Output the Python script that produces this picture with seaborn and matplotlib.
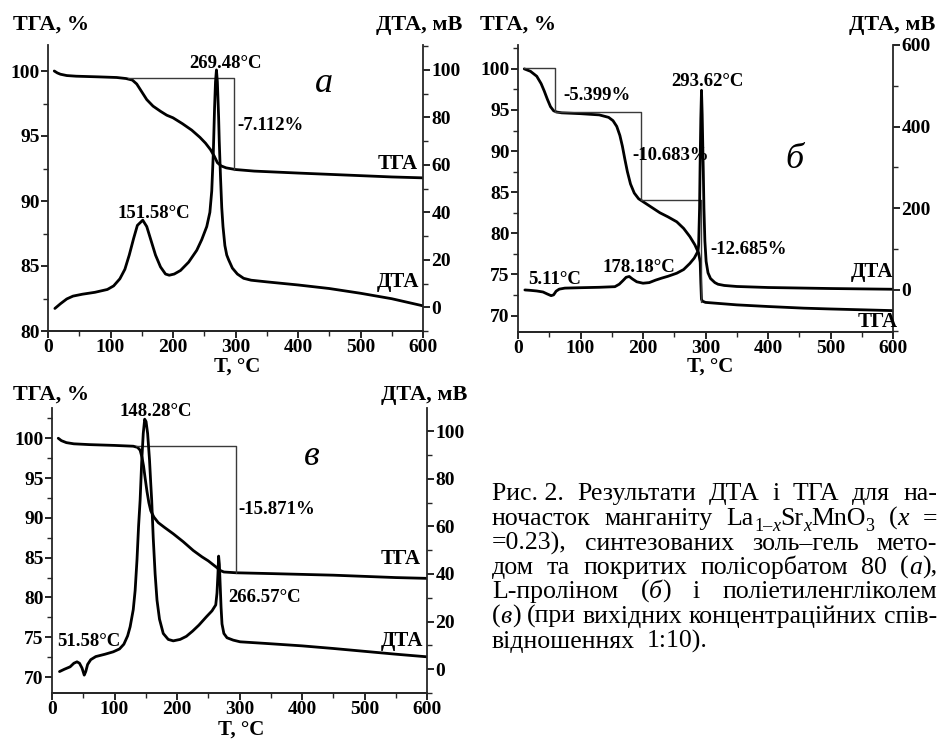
import matplotlib
matplotlib.use("Agg")
import matplotlib.pyplot as plt
import seaborn as sns
from matplotlib.ticker import MultipleLocator

# ---------------- data ----------------
# panel a
Ta_tga = [10, 15, 20, 30, 45, 80, 110, 125, 135, 142, 150, 158, 168, 180, 190, 200, 215, 230, 243,
          252, 260, 266, 271, 277, 285, 300, 330, 400, 450, 500, 550, 600]
a_tga = [100.0, 99.85, 99.75, 99.65, 99.6, 99.55, 99.5, 99.42, 99.3, 99.0, 98.4, 97.8, 97.3, 96.9,
         96.6, 96.4, 95.95, 95.45, 94.9, 94.45, 93.95, 93.45, 92.95, 92.7, 92.55, 92.42, 92.3,
         92.15, 92.05, 91.95, 91.85, 91.78]
Ta_dta = [11, 20, 30, 40, 55, 75, 95, 105, 115, 123, 130, 137, 143, 151.6, 158, 165, 172, 180, 188,
          194, 202, 212, 225, 238, 246, 254, 259, 262, 264.5, 266.5, 268, 269.5, 271, 273, 274, 276,
          278, 280, 283, 286, 289, 295, 303, 313, 325, 350, 400, 450, 500, 550, 600]
a_dta = [-0.5, 1.5, 3.5, 4.7, 5.5, 6.3, 7.5, 9, 12, 16, 22, 29, 34.5, 36.7, 34, 28, 22, 17, 14,
         13.5, 14, 15.5, 19, 24, 28.5, 34, 40, 49, 65, 84, 95, 100, 95, 80, 70, 55,
         42, 34, 26, 22, 20, 16.5, 14, 12.2, 11.4, 10.7, 9.4, 7.9, 5.9, 3.6, 0.6]
a_step_T = [128, 298, 298]
a_step_v = [99.5, 99.5, 92.4]

# panel б
Tb_tga = [10, 20, 30, 37, 42, 47, 52, 57, 62, 70, 100, 130, 145, 152, 158, 163, 167, 171, 175, 180,
          186, 193, 201, 215, 227, 240, 254, 265, 275, 283, 289, 291.5, 292.5, 293.5, 295, 300, 350,
          400, 457, 500, 550, 600]
b_tga = [100.0, 99.7, 99.1, 98.2, 97.3, 96.3, 95.4, 94.9, 94.75, 94.65, 94.55, 94.4, 94.1, 93.7,
         93.0, 91.9, 90.6, 89.0, 87.5, 86.0, 84.9, 84.2, 83.8, 83.1, 82.5, 82.0, 81.4, 80.6, 79.6,
         78.6, 77.6, 76.5, 74.0, 72.0, 71.75, 71.6, 71.3, 71.1, 70.9, 70.8, 70.7, 70.6]
Tb_dta = [11, 20, 30, 40, 47, 53, 57, 61, 66, 75, 100, 130, 155, 162, 168, 173, 178, 183, 190, 200,
          210, 220, 230, 240, 254, 265, 275, 282, 288, 289, 290.5, 291.3, 292.5, 293.6, 294.7, 295.7,
          296.5, 297.5, 299, 301, 304, 308, 315, 320, 330, 350, 400, 500, 600]
b_dta = [0, -1, -2.5, -5, -10, -14, -12, -3, 2, 4.5, 5.5, 6.5, 8, 14, 23, 31, 33, 27, 20, 16.5,
         18, 24, 29, 33.5, 41, 50, 65, 78, 95, 110, 200, 300, 420, 489, 430, 350,
         290, 200, 120, 70, 42, 28, 18, 14, 11, 8.5, 6, 3.5, 1.7]
b_step_T = [10, 59, 59, 196, 196, 293, 293]
b_step_v = [100.1, 100.1, 94.7, 94.7, 84.1, 84.1, 71.7]

# panel в
Tc_tga = [10, 15, 23, 35, 60, 100, 130, 137, 141, 144, 146.5, 149, 152, 155, 158, 163, 170, 180,
          194, 210, 226, 240, 250, 263, 269, 275, 295, 350, 450, 550, 600]
c_tga = [100.0, 99.7, 99.45, 99.3, 99.2, 99.1, 99.0, 98.85, 98.5, 97.6, 96.5, 95.0, 93.3, 91.9,
         90.9, 90.1, 89.4, 88.8, 88.0, 87.0, 85.9, 85.1, 84.6, 83.8, 83.4, 83.2, 83.1, 83.0, 82.8,
         82.5, 82.4]
Tc_dta = [12, 20, 29, 35, 40, 44, 48, 51.6, 54, 57, 62, 70, 85, 98, 108, 115, 121, 125, 130, 133,
          136, 138.5, 141, 143.5, 146, 148.3, 150.5, 153, 156, 158, 159.5, 162, 165, 168, 172, 178,
          186, 194, 205, 215, 225, 235, 247, 256, 262, 264, 265.5, 266.6, 267.8, 269, 270.5, 272,
          275, 280, 290, 301, 343, 400, 450, 500, 550, 600]
c_dta = [-1, 0, 1, 2.5, 3.1, 2.5, 0.5, -2.5, -1, 2, 4, 5.3, 6.3, 7.3, 8.5, 10.5, 14, 17.8, 25, 33,
         46, 60, 71, 87, 99, 105, 104, 99, 88, 78, 71, 55, 40, 29, 21, 15,
         12.5, 11.9, 12.5, 13.8, 16, 18.5, 22, 24.5, 27, 32, 40, 47.5, 44, 36, 26, 19,
         15, 13.2, 12.2, 11.5, 10.8, 9.8, 8.7, 7.5, 6.3, 5.2]
c_step_T = [135, 294, 294]
c_step_v = [99.05, 99.05, 83.1]

x_ticks = [0, 100, 200, 300, 400, 500, 600]

# ---------------- style ----------------
sns.set_theme(style="ticks")
plt.rcParams["font.family"] = ["Liberation Serif", "DejaVu Serif"]
plt.rcParams["font.weight"] = "bold"
plt.rcParams["axes.linewidth"] = 1.3

W, H = 941, 739
fig = plt.figure(figsize=(W / 100, H / 100), dpi=100)
fig.patch.set_facecolor("white")


def P(x, y):
    return x / W, 1 - y / H


def rect(l, r, t, b):
    return [l / W, 1 - b / H, (r - l) / W, (b - t) / H]


def panel(rc, Tt, vt, Td, vd, sT, sv, yl, yr, lt_major, rt_major, rt_minor):
    ax = fig.add_axes(rc)
    ax2 = ax.twinx()
    sns.lineplot(x=Tt, y=vt, ax=ax, color="black", linewidth=2.0, sort=False, estimator=None)
    ax.plot(sT, sv, color="#3a3a3a", linewidth=1.0)
    sns.lineplot(x=Td, y=vd, ax=ax2, color="black", linewidth=2.0, sort=False, estimator=None)
    for a in (ax, ax2):
        a.set_xlim(0, 600)
        a.spines["top"].set_visible(False)
        a.set_xlabel("")
        a.set_ylabel("")
        a.patch.set_alpha(0)
    ax.spines["right"].set_visible(False)
    ax2.spines["left"].set_visible(False)
    ax.set_ylim(*yl)
    ax2.set_ylim(*yr)
    ax.set_xticks(x_ticks)
    ax.xaxis.set_minor_locator(MultipleLocator(50))
    ax.yaxis.set_major_locator(MultipleLocator(lt_major))
    ax.yaxis.set_minor_locator(MultipleLocator(2.5))
    ax2.yaxis.set_major_locator(MultipleLocator(rt_major))
    ax2.yaxis.set_minor_locator(MultipleLocator(rt_minor))
    for a in (ax, ax2):
        a.tick_params(which="major", direction="out", length=5, width=1.2, labelsize=14,
                      pad=1, colors="black")
        a.tick_params(which="minor", direction="out", length=3.5, width=1.0)
        for lab in a.get_xticklabels() + a.get_yticklabels():
            lab.set_fontweight("bold")
    return ax, ax2


panel(rect(48, 423, 45, 331), Ta_tga, a_tga, Ta_dta, a_dta, a_step_T, a_step_v,
      (80, 102), (-10, 110.5), 5, 20, 10)
panel(rect(518, 893, 45, 332), Tb_tga, b_tga, Tb_dta, b_dta, b_step_T, b_step_v,
      (68, 102.9), (-103, 600), 5, 200, 100)
panel(rect(52, 427, 408, 693), Tc_tga, c_tga, Tc_dta, c_dta, c_step_T, c_step_v,
      (68, 103.8), (-10, 109.7), 5, 20, 10)


def txt(x, y, s, size=13.5, ha="left", style="normal", weight="bold", va="center"):
    fig.text(*P(x, y), s, fontsize=size, ha=ha, va=va, fontstyle=style,
             fontweight=weight, color="black")


# axis titles
for (xl, xr, y) in [(13, 462, 25), (480, 935, 25), (13, 467, 395)]:
    txt(xl, y, "ТГА, %", size=16)
    txt(xr, y, "ДТА, мВ", size=16, ha="right")
txt(237, 372, "T, °C", size=15, ha="center", va="baseline")
txt(710, 372, "T, °C", size=15, ha="center", va="baseline")
txt(241, 735, "T, °C", size=15, ha="center", va="baseline")

# panel a
txt(225, 63, "269.48°C", ha="center")
txt(324, 84, "а", size=26, ha="center", style="italic", weight="normal")
txt(237, 126, "-7.112%")
txt(418, 164, "ТГА", size=15, ha="right")
txt(154, 213, "151.58°C", ha="center")
txt(419, 282, "ДТА", size=15, ha="right")

# panel б
txt(563, 95, "-5.399%")
txt(707, 82, "293.62°C", ha="center")
txt(632, 155, "-10.683%")
txt(794, 160, "б", size=26, ha="center", style="italic", weight="normal")
txt(710, 250, "-12.685%")
txt(639, 267, "178.18°C", ha="center")
txt(528, 280, "5.11°C")
txt(893, 272, "ДТА", size=15, ha="right")
txt(898, 322, "ТГА", size=15, ha="right")

# panel в
txt(156, 411, "148.28°C", ha="center")
txt(312, 457, "в", size=26, ha="center", style="italic", weight="normal")
txt(238, 510, "-15.871%")
txt(421, 559, "ТГА", size=15, ha="right")
txt(228, 597, "266.57°C")
txt(57, 641, "51.58°C")
txt(423, 641, "ДТА", size=15, ha="right")

# ---------------- caption (justified) ----------------
N, I = "n", "i"
caption = [
    [[("Рис. 2.", N)], [("Результати", N)], [("ДТА", N)], [("і", N)], [("ТГА", N)], [("для", N)], [("на-", N)]],
    [[("ночасток", N)], [("манганіту", N)],
     [("La", N), ("1–", N, 1), ("x", I, 1), ("Sr", N), ("x", I, 1), ("MnO", N), ("3", N, 1)],
     [("(", N), ("x", I)], [("=", N)]],
    [[("=0.23),", N)], [("синтезованих", N)], [("золь–гель", N)], [("мето-", N)]],
    [[("дом", N)], [("та", N)], [("покритих", N)], [("полісорбатом", N)], [("80", N)],
     [("(", N), ("а", I), ("),", N)]],
    [[("L-проліном", N)], [("(", N), ("б", I), (")", N)], [("і", N)], [("поліетиленгліколем", N)]],
    [[("(", N), ("в", I), (")", N)], [("(при", N)], [("вихідних", N)], [("концентраційних", N)], [("спів-", N)]],
    [[("відношеннях", N)], [("1:10).", N)]],
]
baselines = [500, 525, 550, 574, 598, 623, 648]
X0, X1 = 492, 937

renderer = fig.canvas.get_renderer()
objs = []
for line in caption:
    lo = []
    for tok in line:
        to = []
        for seg in tok:
            s, st = seg[0], seg[1]
            sub = len(seg) > 2
            t = fig.text(0, 0, s, fontweight="normal",
                         fontstyle="italic" if st == I else "normal",
                         va="baseline", ha="left", color="black")
            to.append((t, sub))
        lo.append(to)
    objs.append(lo)


def set_size(fs):
    for lo in objs:
        for to in lo:
            for t, sub in to:
                t.set_fontsize(fs * (0.7 if sub else 1.0))


def widths():
    res = []
    for lo in objs:
        lw = []
        for to in lo:
            lw.append([t.get_window_extent(renderer).width for t, sub in to])
        res.append(lw)
    return res


fs0 = 18.0
set_size(fs0)
w = widths()
em0 = fs0 * 100 / 72
nat6 = sum(sum(x) for x in w[5]) + 0.25 * em0 * (len(w[5]) - 1)
fs = fs0 * (X1 - X0) / nat6
set_size(fs)
w = widths()
em = fs * 100 / 72

for li, (lo, lw) in enumerate(zip(objs, w)):
    tokw = [sum(x) for x in lw]
    if li < len(objs) - 1:
        gap = (X1 - X0 - sum(tokw)) / (len(tokw) - 1)
    else:
        gap = 0.45 * em
    x = X0
    yb = baselines[li]
    for to, segw in zip(lo, lw):
        xx = x
        for (t, sub), sw in zip(to, segw):
            dy = 0.22 * em if sub else 0
            t.set_position(P(xx, yb + dy))
            xx += sw
        x += sum(segw) + gap

fig.savefig("out.png", dpi=100, facecolor="white")
